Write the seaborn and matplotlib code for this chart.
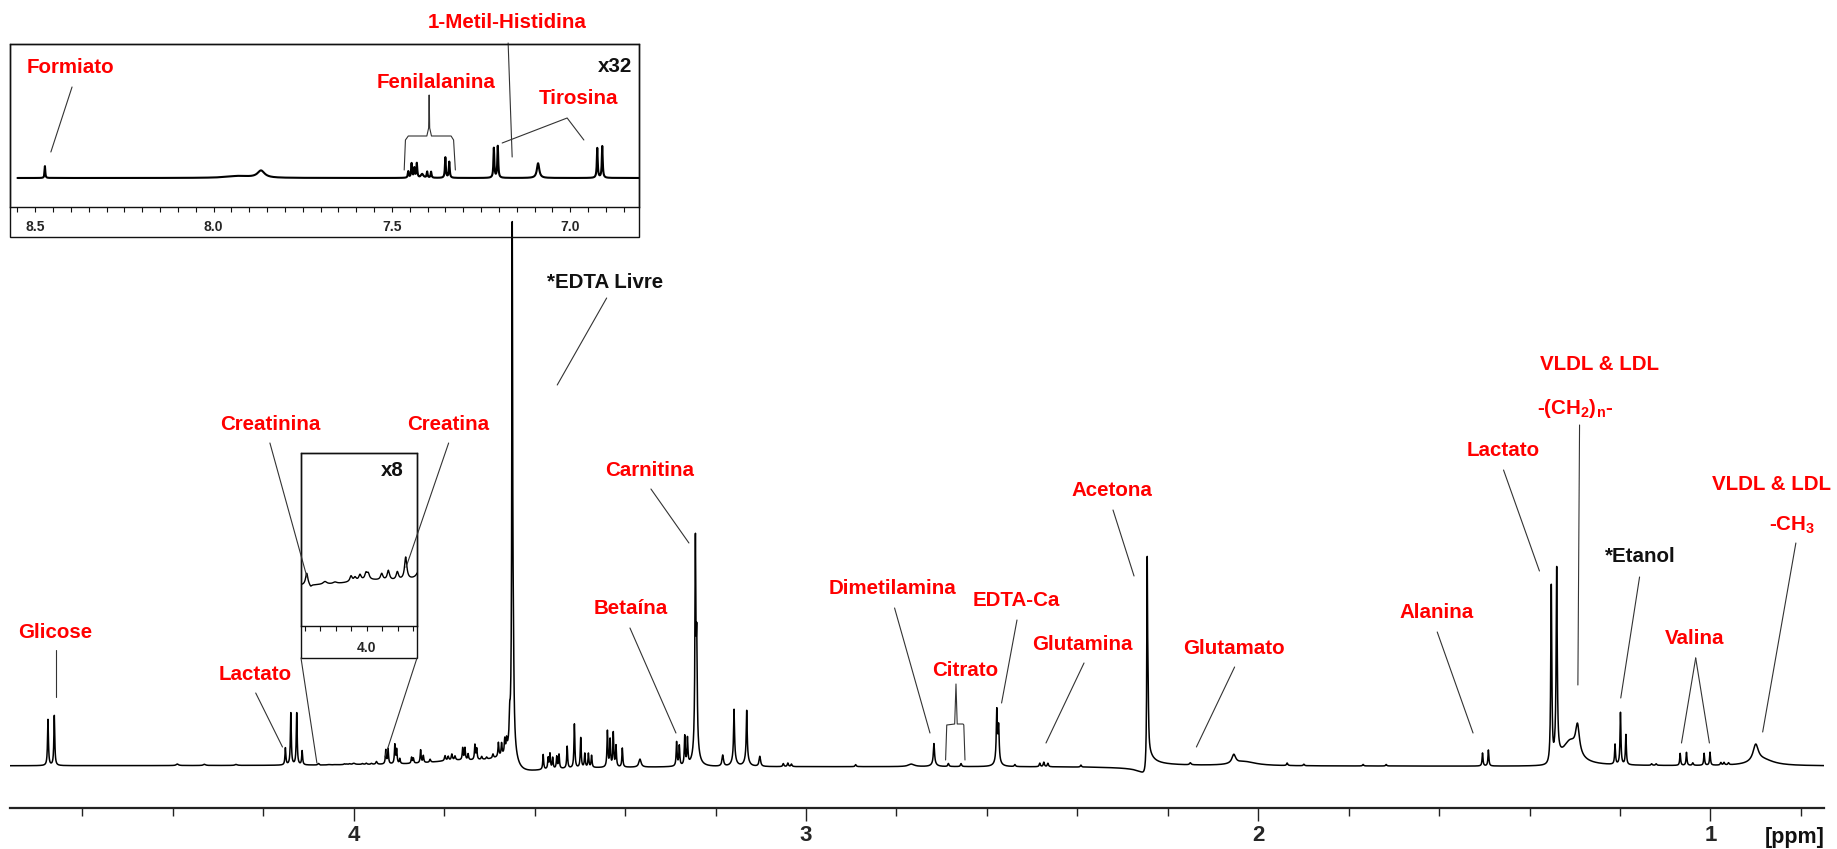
import numpy as np
import matplotlib
matplotlib.use("Agg")
import matplotlib.pyplot as plt
import seaborn as sns
from matplotlib import font_manager
from matplotlib.patches import Rectangle, ConnectionPatch

# ---------------------------------------------------------------------------
# 1H NMR plasma spectrum: peak list (chemical shift in ppm, intensity, HWHM)
# ---------------------------------------------------------------------------
peak_ppm = [
    4.676, 4.662,                                   # glicose
    4.39, 4.33, 4.26,
    4.151, 4.139, 4.126, 4.114,                     # lactato CH
    4.0776, 4.0724, 4.054, 4.041, 4.0203, 4.0151, 4.0087, 4.0009, 3.998,
    3.9806, 3.972, 3.9604, 3.9496, 4.000,           # creatinina / creatina region
    3.929, 3.924, 3.909, 3.905, 3.898, 3.872, 3.868, 3.852, 3.846, 3.831,
    3.798, 3.791, 3.783, 3.776, 3.759, 3.754, 3.747, 3.732, 3.728, 3.717,
    3.706, 3.692, 3.680, 3.673, 3.666, 3.662, 3.655, 3.780,
    3.6495, 3.647, 3.650,                           # EDTA livre
    3.581, 3.570, 3.566, 3.560, 3.551, 3.546, 3.528, 3.512, 3.498, 3.489,
    3.481, 3.474, 3.439, 3.433, 3.426, 3.420, 3.406, 3.367,
    3.286, 3.280, 3.268, 3.262,                     # betaina region
    3.2445, 3.2415, 3.243,                          # carnitina
    3.184, 3.159, 3.159, 3.131, 3.131, 3.102, 3.050, 3.040, 3.032,
    2.890, 2.767,
    2.717, 2.717,                                   # dimetilamina
    2.685, 2.657,                                   # citrato
    2.578, 2.574, 2.576,                            # EDTA-Ca
    2.538, 2.483, 2.474, 2.465, 2.392,              # glutamina
    2.2455, 2.2435,                                 # acetona
    2.150, 2.054, 2.030,                            # glutamato
    1.936, 1.899, 1.768, 1.717,
    1.504, 1.491,                                   # alanina
    1.352, 1.340,                                   # lactato CH3
    1.294, 1.310,                                   # VLDL & LDL -(CH2)n-
    1.211, 1.199, 1.187,                            # etanol
    1.130, 1.120,
    1.067, 1.053, 1.014, 1.001,                     # valina
    1.039, 0.977, 0.970, 0.960,
    0.900, 0.885,                                   # VLDL & LDL -CH3
]
peak_height = [
    46, 50,
    1.5, 1.2, 1.0,
    17, 52, 52, 14,
    1.5, -0.3, 0.35, 0.2, 0.7, 0.45, 0.7, 0.8, 0.7,
    0.8, 1.2, 1.0, 2.8, 0.45,
    14, 15, 19, 14, 5, 6, 5, 13, 7, 3,
    5, 4, 6, 4, 12, 12, 6, 15, 11, 3,
    2, 4, 14, 12, 14, 11, 22, 3,
    505, 60, 25,
    15, 11, 15, 11, 12, 14, 22, 44, 30, 14,
    14, 12, 36, 27, 34, 21, 19, 8,
    24, 20, 29, 26,
    200, 95, 22,
    11, 48, 9, 47, 9, 10, 3, 3.5, 2.5,
    2, 2.5,
    20, 3,
    3, 3,
    50, 33, 6,
    2, 3.5, 4.5, 3.5, 2,
    200, 40,
    2, 9, 4,
    2.5, 1.5, 1.5, 1.5,
    13, 16,
    180, 185,
    28, 22,
    20, 52, 30,
    1.5, 1.5,
    12, 13, 12, 13,
    2.5, 2.5, 2.5, 2,
    17, 6,
]
peak_width = [
    0.0012, 0.0012,
    0.003, 0.003, 0.003,
    0.0012, 0.0012, 0.0012, 0.0012,
    0.0018, 0.0018, 0.003, 0.003, 0.0018, 0.0018, 0.0018, 0.0018, 0.0018,
    0.0018, 0.0018, 0.0018, 0.0018, 0.03,
    0.0012, 0.0012, 0.0012, 0.0012, 0.0012, 0.0012, 0.0012, 0.0012, 0.0012, 0.0015,
    0.0015, 0.0015, 0.0015, 0.0015, 0.0012, 0.0012, 0.0012, 0.0012, 0.0012, 0.0015,
    0.0015, 0.0015, 0.0012, 0.0012, 0.0012, 0.0012, 0.0012, 0.06,
    0.0011, 0.0015, 0.008,
    0.0012, 0.0012, 0.0012, 0.0012, 0.0012, 0.0012, 0.0012, 0.0012, 0.0012, 0.0012,
    0.0012, 0.0012, 0.0012, 0.0012, 0.0012, 0.0012, 0.0012, 0.003,
    0.0012, 0.0012, 0.0012, 0.0012,
    0.0012, 0.0012, 0.006,
    0.002, 0.0012, 0.005, 0.0012, 0.005, 0.002, 0.0015, 0.0015, 0.0015,
    0.0015, 0.008,
    0.0015, 0.006,
    0.0015, 0.0015,
    0.0014, 0.0014, 0.006,
    0.0015, 0.0015, 0.0015, 0.0015, 0.0015,
    0.0011, 0.0013,
    0.002, 0.005, 0.03,
    0.0015, 0.0015, 0.0015, 0.0015,
    0.0012, 0.0012,
    0.0014, 0.0014,
    0.005, 0.02,
    0.0012, 0.0012, 0.0012,
    0.0015, 0.0015,
    0.0012, 0.0012, 0.0012, 0.0012,
    0.0015, 0.0015, 0.0015, 0.0015,
    0.007, 0.03,
]

# phase-distorted (dispersive) baseline components
disp_ppm = [3.649, 2.245, 1.346]
disp_amp = [12, -20, -10]
disp_width = [0.03, 0.006, 0.006]

# aromatic region (shown magnified x32)
arom_ppm = [8.473, 7.867, 7.93, 7.454, 7.4447, 7.437, 7.430, 7.415, 7.401, 7.390,
            7.350, 7.339, 7.214, 7.203, 7.090, 6.924, 6.910]
arom_height = [0.37, 0.22, 0.06, 0.2, 0.45, 0.3, 0.45, 0.12, 0.19, 0.19,
               0.64, 0.5, 0.93, 0.99, 0.46, 0.93, 0.99]
arom_width = [0.0012, 0.012, 0.04, 0.0015, 0.0015, 0.0015, 0.0015, 0.004, 0.0015, 0.0015,
              0.0015, 0.0015, 0.0015, 0.0015, 0.004, 0.0015, 0.0015]

main_major_ticks = [4, 3, 2, 1]
main_major_labels = ["4", "3", "2", "1"]
arom_tick_labels = ["8.5", "8.0", "7.5", "7.0"]
zoom8_tick_labels = ["4.0"]

RED = "#FF0000"
INK = "#111111"
LEADER = "#333333"


def lineshape(x, centers, heights, widths, dc=(), da=(), dw=()):
    """Sum of Lorentzian absorption lines plus dispersive baseline terms."""
    y = np.zeros_like(x)
    for c, h, w in zip(centers, heights, widths):
        y += h / (1.0 + ((x - c) / w) ** 2)
    for c, a, w in zip(dc, da, dw):
        d = (x - c) / w
        y += a * d / (1.0 + d ** 2)
    return y


def pick_font():
    """Prefer a narrow sans face; otherwise fall back to a regular one, set smaller."""
    names = {f.name for f in font_manager.fontManager.ttflist}
    for cand in ["Liberation Sans Narrow", "Arial Narrow"]:
        if cand in names:
            return cand, 1.0
    for cand in ["Liberation Sans", "Arial"]:
        if cand in names:
            return cand, 0.87
    return "DejaVu Sans", 0.8


sns.set_theme(style="white")
FONT, SCALE = pick_font()
plt.rcParams["font.family"] = [FONT, "DejaVu Sans"]
plt.rcParams["mathtext.fontset"] = "custom"
plt.rcParams["mathtext.rm"] = f"{FONT}:bold"
plt.rcParams["mathtext.it"] = f"{FONT}:bold"
plt.rcParams["mathtext.bf"] = f"{FONT}:bold"

LABEL_SIZE = 17 * SCALE

W, H = 1837, 849
fig = plt.figure(figsize=(W / 100, H / 100), dpi=100)
fig.patch.set_facecolor("white")

# ---------------------------- main spectrum -------------------------------
ax = fig.add_axes([10 / W, 41 / H, 1814 / W, 808 / H])
grid = np.arange(0.745, 4.765, 0.0002)
curve = lineshape(grid, peak_ppm, peak_height, peak_width, disp_ppm, disp_amp, disp_width)
sns.lineplot(x=grid, y=curve, ax=ax, color="black", linewidth=1.1,
             estimator=None, errorbar=None, sort=False)
ax.set_xlim(4.760, 0.749)
ax.set_ylim(-42, 766)
ax.set_xlabel("")
ax.set_ylabel("")
ax.set_facecolor("none")
for side in ["top", "left", "right"]:
    ax.spines[side].set_visible(False)
ax.spines["bottom"].set_linewidth(1.6)
ax.spines["bottom"].set_color("#222222")
ax.set_yticks([])
ax.set_xticks(main_major_ticks)
ax.set_xticklabels(main_major_labels)
ax.set_xticks([v for v in np.arange(0.8, 4.61, 0.2) if abs(v - round(v)) > 0.05], minor=True)
ax.tick_params(axis="x", which="both", bottom=True, top=False)
ax.tick_params(axis="x", which="major", direction="out", length=9.5, width=1.0,
               color="#222222", pad=3, labelsize=16)
ax.tick_params(axis="x", which="minor", direction="out", length=6, width=1.0,
               color="#222222")
for lbl in ax.get_xticklabels():
    lbl.set_fontweight("bold")
ax.text(0.8129, -71, "[ppm]", ha="center", va="center", fontsize=15.5,
        fontweight="bold", color=INK, clip_on=False)

label_kw = dict(ha="center", va="center", fontsize=LABEL_SIZE, fontweight="bold")

# labels placed in (ppm, intensity) coordinates with leader lines
main_labels = [
    ("Glicose", RED, 4.6594, 134, [(4.6579, 116), (4.6579, 69)]),
    ("Lactato", RED, 4.2185, 92, [(4.2167, 73), (4.1575, 19)]),
    ("Carnitina", RED, 3.345, 295, [(3.3428, 277), (3.2588, 223)]),
    ("Betaína", RED, 3.3881, 157, [(3.3892, 138), (3.2875, 33)]),
    ("*EDTA Livre", INK, 3.4445, 484, [(3.4407, 468), (3.550, 381)]),
    ("Dimetilamina", RED, 2.8076, 178, [(2.8041, 158), (2.7258, 33)]),
    ("Citrato", RED, 2.6473, 96, None),
    ("EDTA-Ca", RED, 2.5345, 166, [(2.5334, 146), (2.5675, 63)]),
    ("Glutamina", RED, 2.3886, 122, [(2.3852, 103), (2.4693, 23)]),
    ("Acetona", RED, 2.3233, 275, [(2.3211, 256), (2.2746, 190)]),
    ("Glutamato", RED, 2.0548, 118, [(2.0522, 99), (2.1367, 19)]),
    ("Alanina", RED, 1.6057, 153, [(1.6042, 134), (1.5250, 33)]),
    ("Lactato", RED, 1.4587, 315, [(1.4576, 296), (1.3782, 195)]),
    ("VLDL & LDL", RED, 1.2463, 402, None),
    (r"-(CH$_{2}$)$_{n}$-", RED, 1.2994, 358, [(1.2895, 341), (1.2932, 81)]),
    ("*Etanol", INK, 1.1557, 210, [(1.1568, 189), (1.1984, 68)]),
    ("Valina", RED, 1.0352, 127, [(1.0327, 108), (1.0641, 23)]),
    ("VLDL & LDL", RED, 0.8640, 282, None),
    (r"-CH$_{3}$", RED, 0.8196, 241, [(0.8112, 223), (0.8846, 34)]),
]
for text, col, tx, ty, pts in main_labels:
    ax.text(tx, ty, text, color=col, **label_kw)
    if pts:
        ax.plot([p[0] for p in pts], [p[1] for p in pts], color=LEADER, lw=0.8,
                clip_on=False)
# second leader for valina
ax.plot([1.0327, 1.0024], [108, 23], color=LEADER, lw=0.8)

# citrate bracket
cit_x = [2.6913, 2.6887, 2.6712, 2.6683, 2.6656, 2.6528, 2.651, 2.6484]
cit_y = [6, 41, 42, 82, 42, 42, 41, 6]
ax.plot(cit_x, cit_y, color=LEADER, lw=0.8)

# ------------------------ x32 aromatic inset ------------------------------
ax32 = fig.add_axes([10 / W, (H - 207) / H, 629 / W, 163 / H])
agrid = np.arange(6.80, 8.55, 0.0002)
acurve = 32 * lineshape(agrid, arom_ppm, arom_height, arom_width)
sns.lineplot(x=agrid, y=acurve, ax=ax32, color="black", linewidth=1.5,
             estimator=None, errorbar=None, sort=False)
ax32.set_xlim(8.571, 6.807)
ax32.set_ylim(-29, 134)
ax32.set_xlabel("")
ax32.set_ylabel("")
ax32.set_yticks([])
ax32.set_xticks([8.5, 8.0, 7.5, 7.0])
ax32.set_xticklabels(arom_tick_labels)
ax32.set_xticks(np.arange(6.85, 8.56, 0.05), minor=True)
ax32.tick_params(axis="x", which="both", bottom=True, top=False, direction="out",
                 length=3.5, width=0.8, color=INK, pad=6, labelsize=10)
for lbl in ax32.get_xticklabels():
    lbl.set_fontweight("bold")
for sp in ax32.spines.values():
    sp.set_color(INK)
    sp.set_linewidth(1.0)
ax32.add_patch(Rectangle((0, -0.184), 1, 1.184, transform=ax32.transAxes,
                         fill=False, ec=INK, lw=1.0, clip_on=False))
ax32.text(0.990, 0.865, "x32", transform=ax32.transAxes, ha="right", va="center",
          fontsize=LABEL_SIZE, fontweight="bold", color=INK)

arom_labels = [
    ("Formiato", 8.4025, 110, [(8.397, 91), (8.4564, 26)]),
    ("Fenilalanina", 7.3755, 95, None),
    ("Tirosina", 6.978, 79, [(7.1907, 35), (7.0085, 60), (6.9616, 38)]),
    ("1-Metil-Histidina", 7.1767, 155, [(7.174, 135), (7.1627, 21)]),
]
for text, tx, ty, pts in arom_labels:
    ax32.text(tx, ty, text, color=RED, clip_on=False, **label_kw)
    if pts:
        ax32.plot([p[0] for p in pts], [p[1] for p in pts], color=LEADER, lw=0.8,
                  clip_on=False)
brace_x = [7.4655, 7.4620, 7.454, 7.402, 7.397, 7.3955, 7.394, 7.389, 7.334, 7.327, 7.322]
brace_y = [8, 38, 42, 42, 50, 83, 50, 42, 42, 38, 8]
ax32.plot(brace_x, brace_y, color=LEADER, lw=0.8)

# ------------------------- x8 creatinine inset ----------------------------
ax8 = fig.add_axes([301 / W, (H - 626) / H, 116 / W, 173 / H])
zgrid = np.arange(3.93, 4.09, 0.0001)
zcurve = 8 * lineshape(zgrid, peak_ppm, peak_height, peak_width, disp_ppm, disp_amp, disp_width)
sns.lineplot(x=zgrid, y=zcurve, ax=ax8, color="black", linewidth=1.0,
             estimator=None, errorbar=None, sort=False)
ax8.set_xlim(4.085, 3.935)
ax8.set_ylim(-32.7, 140.3)
ax8.set_xlabel("")
ax8.set_ylabel("")
ax8.set_yticks([])
ax8.set_xticks([4.0])
ax8.set_xticklabels(zoom8_tick_labels)
ax8.set_xticks(np.arange(3.94, 4.09, 0.02), minor=True)
ax8.tick_params(axis="x", which="both", bottom=True, top=False, direction="out",
                length=3.5, width=0.8, color=INK, pad=7, labelsize=10)
for lbl in ax8.get_xticklabels():
    lbl.set_fontweight("bold")
for sp in ax8.spines.values():
    sp.set_color(INK)
    sp.set_linewidth(1.0)
ax8.add_patch(Rectangle((0, -0.185), 1, 1.185, transform=ax8.transAxes,
                        fill=False, ec=INK, lw=1.0, clip_on=False))
ax8.text(0.888, 0.896, "x8", transform=ax8.transAxes, ha="right", va="center",
         fontsize=LABEL_SIZE, fontweight="bold", color=INK)

# labels pointing into the x8 inset
ax.text(4.1853, 341, "Creatinina", color=RED, **label_kw)
ax.text(3.7917, 341, "Creatina", color=RED, **label_kw)
for start, end in [((4.1853, 323), (4.0772, 16)), ((3.7901, 323), (3.9492, 26))]:
    fig.add_artist(ConnectionPatch(xyA=start, coordsA=ax.transData, xyB=end,
                                   coordsB=ax8.transData, color=LEADER, lw=0.8,
                                   zorder=10))
# zoom connectors from the inset frame down to the spectrum
for corner, target in [((0, -0.185), (4.0814, 3)), ((1, -0.185), (3.931, 9))]:
    fig.add_artist(ConnectionPatch(xyA=corner, coordsA=ax8.transAxes, xyB=target,
                                   coordsB=ax.transData, color=LEADER, lw=0.8,
                                   zorder=10))

fig.savefig("out.png", dpi=100, facecolor="white")
